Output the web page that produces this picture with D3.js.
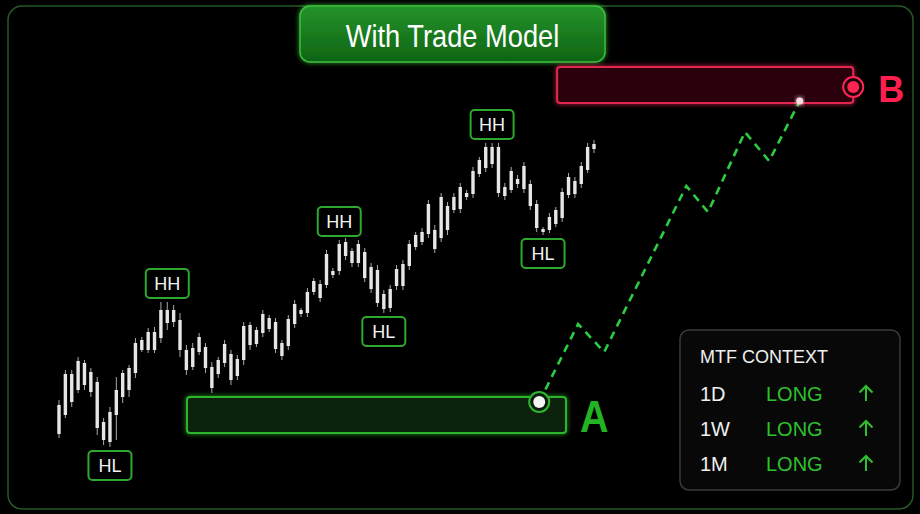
<!DOCTYPE html>
<html lang="en">
<head>
<meta charset="UTF-8">
<title>With Trade Model</title>
<script src="https://d3js.org/d3.v7.min.js"></script>
<style>
  * { margin: 0; padding: 0; box-sizing: border-box; }
  body { background: #000; font-family: "Liberation Sans", Arial, sans-serif; }
  svg { display: block; }
</style>
</head>
<body>
<div id="chart"></div>
<script>
// price candles (bar index 1..85), prices
const opens  = [66, 85, 98, 110, 137, 128, 118, 78, 58, 85, 103, 110, 127, 160, 150, 168, 162, 190, 178, 180,
                150, 133, 148, 153, 133, 126, 137, 146, 124, 140, 175, 156, 167, 182, 178, 157, 154, 176, 190, 187,
                208, 216, 215, 225, 229, 244, 249, 237, 248, 233, 230, 206, 192, 214, 214, 234, 253, 258, 266, 270,
                262, 294, 290, 291, 307, 306, 326, 332, 353, 353, 304, 310, 321, 311, 316, 296, 271, 270, 276, 282,
                305, 319, 316, 330, 356];
const closes = [95, 126, 126, 139, 115, 108, 72, 60, 88, 110, 127, 132, 157, 150, 168, 150, 190, 177, 190, 150,
                130, 152, 163, 132, 112, 140, 156, 120, 141, 174, 155, 170, 186, 171, 151, 144, 181, 196, 186, 208,
                219, 202, 246, 229, 256, 258, 237, 256, 222, 211, 197, 191, 211, 231, 236, 256, 265, 268, 296, 251,
                303, 270, 303, 313, 303, 329, 340, 353, 336, 307, 313, 329, 316, 334, 294, 272, 268, 283, 290, 308,
                323, 306, 334, 353, 351];
const highs  = [100, 130, 130, 143, 140, 132, 123, 82, 93, 123, 130, 135, 162, 163, 172, 173, 198, 198, 195, 187,
                155, 157, 167, 157, 138, 143, 160, 150, 145, 178, 178, 173, 190, 185, 182, 160, 185, 200, 192, 212,
                222, 220, 250, 232, 260, 262, 252, 260, 252, 237, 235, 210, 215, 235, 240, 260, 268, 272, 300, 275,
                307, 298, 307, 317, 310, 333, 343, 357, 357, 357, 317, 333, 325, 338, 320, 300, 273, 287, 293, 312,
                327, 323, 338, 357, 360];
const lows   = [62, 82, 93, 107, 110, 103, 65, 55, 53, 60, 97, 103, 122, 148, 147, 147, 157, 170, 173, 143,
                125, 130, 145, 127, 107, 122, 133, 115, 120, 135, 150, 153, 163, 168, 147, 140, 150, 172, 183, 183,
                205, 198, 212, 222, 225, 240, 233, 233, 218, 207, 193, 187, 188, 210, 210, 230, 250, 255, 262, 247,
                258, 265, 287, 287, 300, 302, 323, 328, 332, 303, 300, 307, 312, 307, 290, 268, 265, 267, 273, 278,
                302, 302, 312, 327, 347];

// swing labels: bar index and type
const swingBars  = [9, 18, 45, 52, 69, 77];
const swingTypes = ["HL", "HH", "HH", "HL", "HH", "HL"];

// projected path (bar index, price)
const projBars   = [76.4, 82.5, 86.6, 99.5, 102.9, 108.7, 112.5, 117.3];
const projPrices = [98, 176, 148, 314, 288, 368, 339, 399];

// zones: [fromBar, toBar, low, high]
const zoneA = [21.1, 80.6, 67, 103];
const zoneB = [79.2, 125.7, 397, 433];
const markerA = [76.4, 98];
const markerB = [125.7, 413];

// MTF context table
const timeframes = ["1D", "1W", "1M"];
const biases     = ["LONG", "LONG", "LONG"];

const W = 920, H = 514;
const svg = d3.select("#chart").append("svg")
    .attr("width", W).attr("height", H)
    .style("background", "#000");

const defs = svg.append("defs");
function glow(id, sd) {
    const f = defs.append("filter").attr("id", id)
        .attr("x", "-20%").attr("y", "-50%").attr("width", "140%").attr("height", "200%");
    f.append("feGaussianBlur").attr("in", "SourceGraphic").attr("stdDeviation", sd).attr("result", "b");
    const m = f.append("feMerge");
    m.append("feMergeNode").attr("in", "b");
    m.append("feMergeNode").attr("in", "SourceGraphic");
}
glow("glowG", 2.5);
glow("glowR", 2.5);
const grad = defs.append("linearGradient").attr("id", "titleGrad")
    .attr("x1", 0).attr("y1", 0).attr("x2", 0).attr("y2", 1);
grad.append("stop").attr("offset", "0%").attr("stop-color", "#24932a");
grad.append("stop").attr("offset", "100%").attr("stop-color", "#0f6414");

// outer frame
svg.append("rect")
    .attr("x", 8).attr("y", 6).attr("width", 905).attr("height", 503)
    .attr("rx", 14)
    .attr("fill", "none").attr("stroke", "#245a24").attr("stroke-width", 1.5);

// title
svg.append("rect")
    .attr("x", 300).attr("y", 6).attr("width", 305).attr("height", 56)
    .attr("rx", 10)
    .attr("fill", "url(#titleGrad)").attr("stroke", "#3cbf3c").attr("stroke-width", 1.5)
    .attr("filter", "url(#glowG)");
svg.append("text")
    .attr("transform", "translate(452.5,47) scale(0.88,1)")
    .attr("text-anchor", "middle")
    .attr("fill", "#fff")
    .style("font-size", "31px")
    .text("With Trade Model");

const x = d3.scaleLinear().domain([1, 85]).range([59, 594]);
const y = d3.scaleLinear().domain([0, 500]).range([500, 0]);

// zone A
svg.append("rect")
    .attr("x", x(zoneA[0])).attr("y", y(zoneA[3]))
    .attr("width", x(zoneA[1]) - x(zoneA[0])).attr("height", y(zoneA[2]) - y(zoneA[3]))
    .attr("rx", 3)
    .attr("fill", "#0b210b").attr("stroke", "#2fb52f").attr("stroke-width", 2)
    .attr("filter", "url(#glowG)");

// zone B
svg.append("rect")
    .attr("x", x(zoneB[0])).attr("y", y(zoneB[3]))
    .attr("width", x(zoneB[1]) - x(zoneB[0])).attr("height", y(zoneB[2]) - y(zoneB[3]))
    .attr("rx", 3)
    .attr("fill", "#2a0611").attr("stroke", "#e3284f").attr("stroke-width", 2)
    .attr("filter", "url(#glowR)");

// candles
const candles = d3.range(opens.length).map(i => ({
    i: i + 1, o: opens[i], c: closes[i], h: highs[i], l: lows[i]
}));

svg.append("g").selectAll("line")
    .data(candles)
    .join("line")
    .attr("x1", d => x(d.i)).attr("x2", d => x(d.i))
    .attr("y1", d => y(d.h)).attr("y2", d => y(d.l))
    .attr("stroke", "#a8a8a8").attr("stroke-width", 1);

svg.append("g").selectAll("rect")
    .data(candles)
    .join("rect")
    .attr("x", d => x(d.i) - 1.7)
    .attr("width", 3.4)
    .attr("y", d => y(Math.max(d.o, d.c)))
    .attr("height", d => Math.max(1.5, Math.abs(y(d.o) - y(d.c))))
    .attr("fill", "#e6e6e6");

// swing labels
const labels = swingBars.map((b, k) => ({ b, t: swingTypes[k], c: candles[b - 1] }));
const lg = svg.append("g").selectAll("g")
    .data(labels)
    .join("g")
    .attr("transform", d => {
        const cy = d.t === "HH" ? y(d.c.h) - 4 - 14.5 : y(d.c.l) + 4 + 14.5;
        return `translate(${x(d.b)},${cy})`;
    });
lg.append("rect")
    .attr("x", -21.5).attr("y", -14.5).attr("width", 43).attr("height", 29)
    .attr("rx", 4)
    .attr("fill", "#000").attr("stroke", "#2ea82e").attr("stroke-width", 2);
lg.append("text")
    .attr("text-anchor", "middle").attr("y", 6.5)
    .attr("fill", "#f2f2f2")
    .style("font-size", "18px")
    .text(d => d.t);

// projected path
const proj = projBars.map((b, k) => [x(b), y(projPrices[k])]);
svg.append("path")
    .attr("d", d3.line()(proj))
    .attr("fill", "none")
    .attr("stroke", "#2ecc40").attr("stroke-width", 2.6)
    .attr("stroke-dasharray", "8,6");

// end of projection
const last = proj[proj.length - 1];
svg.append("circle")
    .attr("cx", last[0]).attr("cy", last[1]).attr("r", 3.5)
    .attr("fill", "#ffdce4").attr("filter", "url(#glowR)");

// marker A
svg.append("circle")
    .attr("cx", x(markerA[0])).attr("cy", y(markerA[1])).attr("r", 10)
    .attr("fill", "#0a1d0a").attr("stroke", "#2fb52f").attr("stroke-width", 2);
svg.append("circle")
    .attr("cx", x(markerA[0])).attr("cy", y(markerA[1])).attr("r", 6)
    .attr("fill", "#f4f4f4");

// marker B
svg.append("circle")
    .attr("cx", x(markerB[0])).attr("cy", y(markerB[1])).attr("r", 10)
    .attr("fill", "#1a0308").attr("stroke", "#ff2452").attr("stroke-width", 2);
svg.append("circle")
    .attr("cx", x(markerB[0])).attr("cy", y(markerB[1])).attr("r", 6)
    .attr("fill", "#ff2452");

// zone letters
svg.append("text")
    .attr("transform", `translate(${x(zoneA[1]) + 14},${y(zoneA[2]) - 1}) scale(0.88,1)`)
    .attr("fill", "#22b422")
    .style("font-size", "45px").style("font-weight", "bold")
    .text("A");
svg.append("text")
    .attr("x", x(markerB[0]) + 25).attr("y", y(zoneB[2]) - 1)
    .attr("fill", "#ff1f4f")
    .style("font-size", "36px").style("font-weight", "bold")
    .text("B");

// MTF context panel
const panel = svg.append("g").attr("transform", "translate(680,330)");
panel.append("rect")
    .attr("width", 220).attr("height", 160).attr("rx", 9)
    .attr("fill", "#080808").attr("stroke", "#3a3a3a").attr("stroke-width", 1.5);
panel.append("text")
    .attr("x", 20).attr("y", 33)
    .attr("fill", "#f0f0f0")
    .style("font-size", "18px")
    .text("MTF CONTEXT");

const rows = panel.selectAll("g.row")
    .data(timeframes.map((t, k) => ({ t, b: biases[k], k })))
    .join("g")
    .attr("class", "row")
    .attr("transform", d => `translate(0,${71 + d.k * 35})`);
rows.append("text")
    .attr("x", 20)
    .attr("fill", "#f0f0f0")
    .style("font-size", "20px")
    .text(d => d.t);
rows.append("text")
    .attr("x", 86)
    .attr("fill", "#2ec02e")
    .style("font-size", "20px")
    .text(d => d.b);
rows.append("path")
    .attr("d", "M186,0 L186,-15 M179.5,-8.5 L186,-15 L192.5,-8.5")
    .attr("fill", "none")
    .attr("stroke", "#2ec02e").attr("stroke-width", 2);
</script>
</body>
</html>
